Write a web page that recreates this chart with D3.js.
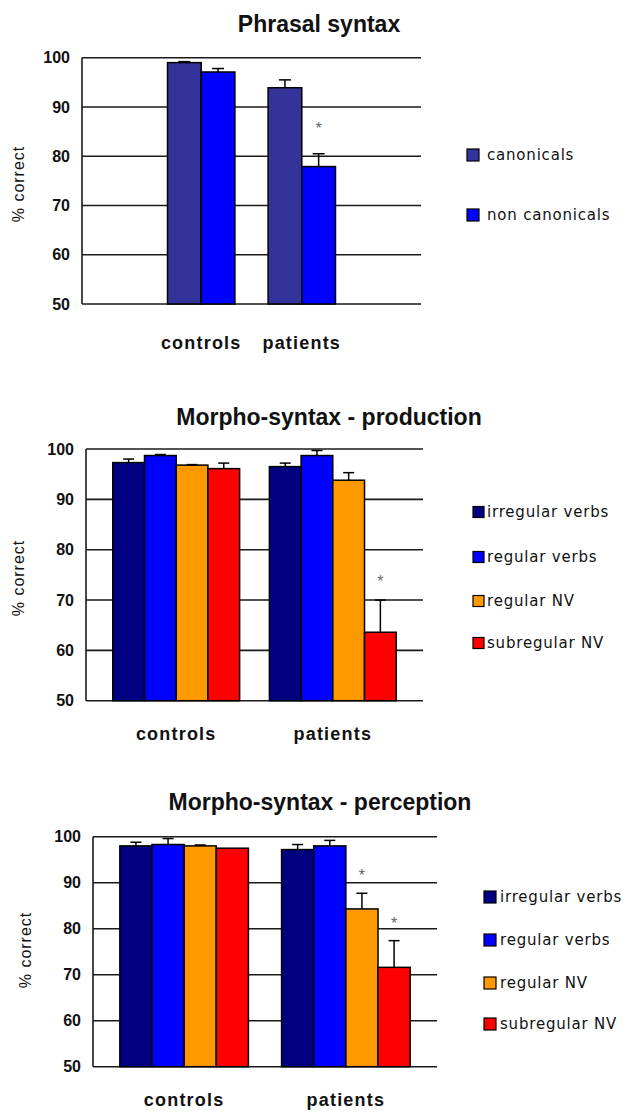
<!DOCTYPE html>
<html>
<head>
<meta charset="utf-8">
<script src="https://cdn.jsdelivr.net/npm/d3@7"></script>
<style>
  html, body { margin: 0; padding: 0; background: #fff; }
  svg { display: block; }
</style>
</head>
<body>
<svg id="chart" width="630" height="1112"></svg>
<script>
// ---- data ----
const groups = ["controls", "patients"];
const yTicks = [50, 60, 70, 80, 90, 100];

// Phrasal syntax
const phrasalSeries = ["canonicals", "non canonicals"];
const phrasalColors = ["#333399", "#0000ff"];
const phrasalMeans = [[99.0, 93.9], [97.1, 77.9]];      // [series][group]
const phrasalErrors = [[0.2, 1.6], [0.7, 2.6]];
const phrasalStars = [[false, false], [false, true]];

// Morpho-syntax series
const morphoSeries = ["irregular verbs", "regular verbs", "regular NV", "subregular NV"];
const morphoColors = ["#000080", "#0000ff", "#ff9900", "#ff0000"];

// Morpho-syntax - production
const productionMeans = [[97.3, 96.5], [98.7, 98.7], [96.8, 93.8], [96.1, 63.6]];
const productionErrors = [[0.7, 0.7], [0.2, 1.0], [0.1, 1.5], [1.1, 6.4]];
const productionStars = [[false, false], [false, false], [false, false], [false, true]];

// Morpho-syntax - perception
const perceptionMeans = [[98.0, 97.2], [98.3, 98.0], [98.0, 84.3], [97.5, 71.6]];
const perceptionErrors = [[0.8, 1.1], [1.3, 1.2], [0.2, 3.4], [0.0, 5.8]];
const perceptionStars = [[false, false], [false, false], [false, true], [false, true]];

// ---- panel layout ----
const panels = [
  {
    title: "Phrasal syntax", series: phrasalSeries, colors: phrasalColors,
    means: phrasalMeans, errors: phrasalErrors, stars: phrasalStars,
    left: 82, right: 421, top: 57.7, bottom: 304,
    padOuter: 0.85, padInner: 0.33,
    titleX: 319, titleY: 32, xLabelY: 349, yTitleX: 18, yTitleY: 184,
    legendX: 467, legendRows: [155, 215], swatch: 12, legendTextX: 487,
    starGap: 29, cap: 12
  },
  {
    title: "Morpho-syntax - production", series: morphoSeries, colors: morphoColors,
    means: productionMeans, errors: productionErrors, stars: productionStars,
    left: 86, right: 423, top: 449, bottom: 700.7,
    padOuter: 0.171, padInner: 0.19,
    titleX: 329, titleY: 425, xLabelY: 740, yTitleX: 18, yTitleY: 578,
    legendX: 473, legendRows: [512, 557, 601, 643], swatch: 11, legendTextX: 487,
    starGap: 22, cap: 11
  },
  {
    title: "Morpho-syntax - perception", series: morphoSeries, colors: morphoColors,
    means: perceptionMeans, errors: perceptionErrors, stars: perceptionStars,
    left: 93, right: 437, top: 836.7, bottom: 1066.7,
    padOuter: 0.166, padInner: 0.205,
    titleX: 320, titleY: 810, xLabelY: 1106, yTitleX: 25, yTitleY: 950,
    legendX: 484, legendRows: [897, 940, 983, 1024], swatch: 12, legendTextX: 500,
    starGap: 21, cap: 11
  }
];

const svg = d3.select("#chart");

panels.forEach(p => {
  const g = svg.append("g");

  const y = d3.scaleLinear().domain([50, 100]).range([p.bottom, p.top]);
  const x0 = d3.scaleBand().domain(groups).range([p.left, p.right])
    .paddingInner(p.padInner).paddingOuter(p.padOuter);
  const x1 = d3.scaleBand().domain(p.series).range([0, x0.bandwidth()]);

  // gridlines (behind bars)
  g.append("g").selectAll("line").data(yTicks).join("line")
    .attr("x1", p.left).attr("x2", p.right)
    .attr("y1", d => y(d)).attr("y2", d => y(d))
    .attr("stroke", "#1a1a1a").attr("stroke-width", 1.6);

  // y axis labels
  const yAxis = d3.axisLeft(y).tickValues(yTicks).tickSize(0).tickPadding(12);
  const ya = g.append("g").attr("transform", `translate(${p.left},0)`).call(yAxis);
  ya.select(".domain").remove();
  ya.selectAll("text")
    .attr("font-family", "Liberation Sans, Arial, sans-serif")
    .attr("font-size", 16).attr("font-weight", "bold").attr("fill", "#111");

  // vertical axis line
  g.append("line")
    .attr("x1", p.left).attr("x2", p.left)
    .attr("y1", y(100)).attr("y2", y(50))
    .attr("stroke", "#1a1a1a").attr("stroke-width", 1.6);

  // bars
  const rows = [];
  p.series.forEach((s, si) => {
    groups.forEach((grp, gi) => {
      rows.push({ series: s, si, group: grp, value: p.means[si][gi],
                  err: p.errors[si][gi], star: p.stars[si][gi] });
    });
  });

  g.append("g").selectAll("rect").data(rows).join("rect")
    .attr("x", d => x0(d.group) + x1(d.series))
    .attr("y", d => y(d.value))
    .attr("width", x1.bandwidth())
    .attr("height", d => y(50) - y(d.value))
    .attr("fill", d => p.colors[d.si])
    .attr("stroke", "#000").attr("stroke-width", 1.5);

  // error bars (upper only)
  const eb = g.append("g").selectAll("g").data(rows.filter(d => d.err > 0)).join("g")
    .attr("transform", d => `translate(${x0(d.group) + x1(d.series) + x1.bandwidth() / 2},0)`);
  eb.append("line")
    .attr("y1", d => y(d.value)).attr("y2", d => y(d.value + d.err))
    .attr("stroke", "#000").attr("stroke-width", 1.5);
  eb.append("line")
    .attr("x1", -p.cap / 2).attr("x2", p.cap / 2)
    .attr("y1", d => y(d.value + d.err)).attr("y2", d => y(d.value + d.err))
    .attr("stroke", "#000").attr("stroke-width", 1.5);

  // significance markers
  g.append("g").selectAll("text").data(rows.filter(d => d.star)).join("text")
    .attr("x", d => x0(d.group) + x1(d.series) + x1.bandwidth() / 2)
    .attr("y", d => y(d.value + d.err) - p.starGap + 9)
    .attr("text-anchor", "middle")
    .attr("font-family", "Liberation Sans, Arial, sans-serif")
    .attr("font-size", 16).attr("fill", "#666")
    .text("*");

  // category labels
  g.append("g").selectAll("text").data(groups).join("text")
    .attr("x", d => x0(d) + x0.bandwidth() / 2)
    .attr("y", p.xLabelY)
    .attr("text-anchor", "middle")
    .attr("font-family", "Liberation Sans, Arial, sans-serif")
    .attr("font-size", 18).attr("font-weight", "bold")
    .attr("letter-spacing", "1.2px").attr("fill", "#111")
    .text(d => d);

  // title
  g.append("text")
    .attr("x", p.titleX).attr("y", p.titleY)
    .attr("text-anchor", "middle")
    .attr("font-family", "Liberation Sans, Arial, sans-serif")
    .attr("font-size", 23).attr("font-weight", "bold").attr("fill", "#111")
    .text(p.title);

  // y axis title
  g.append("text")
    .attr("transform", `translate(${p.yTitleX},${p.yTitleY}) rotate(-90)`)
    .attr("text-anchor", "middle").attr("dominant-baseline", "central")
    .attr("font-family", "Liberation Sans, Arial, sans-serif")
    .attr("font-size", 16).attr("letter-spacing", "1px").attr("fill", "#111")
    .text("% correct");

  // legend
  const lg = g.append("g").selectAll("g").data(p.series).join("g");
  lg.append("rect")
    .attr("x", p.legendX)
    .attr("y", (d, i) => p.legendRows[i] - p.swatch / 2)
    .attr("width", p.swatch).attr("height", p.swatch)
    .attr("fill", (d, i) => p.colors[i])
    .attr("stroke", "#000").attr("stroke-width", 1.2);
  lg.append("text")
    .attr("x", p.legendTextX)
    .attr("y", (d, i) => p.legendRows[i])
    .attr("dominant-baseline", "central")
    .attr("font-family", "DejaVu Sans, Verdana, sans-serif")
    .attr("font-size", 15).attr("letter-spacing", "0.8px").attr("fill", "#111")
    .text(d => d);
});
</script>
</body>
</html>
